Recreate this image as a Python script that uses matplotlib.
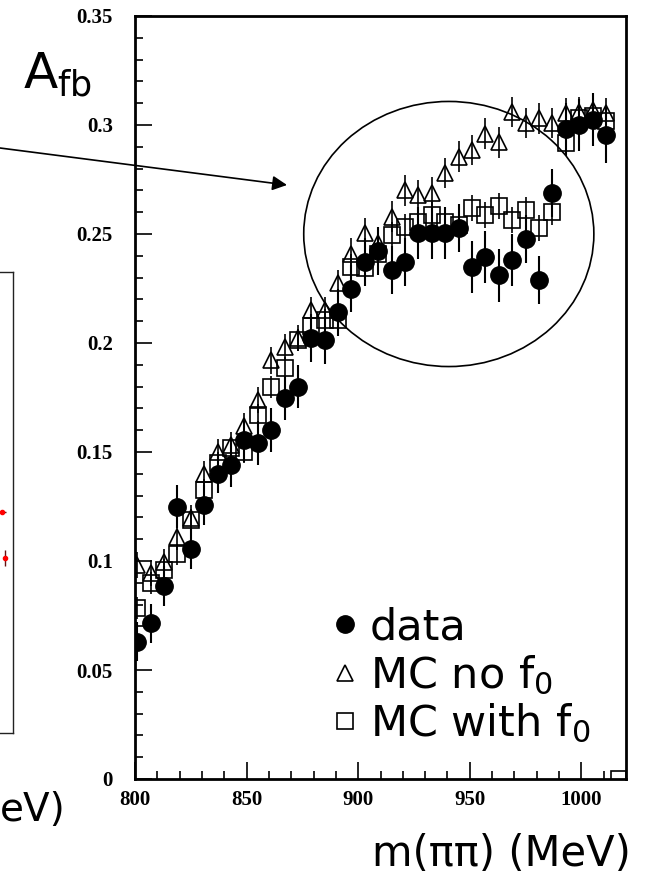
import matplotlib
matplotlib.use("Agg")
import matplotlib.pyplot as plt
from matplotlib.patches import Ellipse, FancyArrowPatch
from matplotlib.lines import Line2D
from matplotlib.ticker import MultipleLocator, FuncFormatter

# m(pi pi) bin centres in MeV
mass = [801, 807, 813, 819, 825, 831, 837, 843, 849, 855, 861, 867,
        873, 879, 885, 891, 897, 903, 909, 915, 921, 927, 933, 939,
        945, 951, 957, 963, 969, 975, 981, 987, 993, 999, 1005, 1011]
mass_f0 = mass + [1017]

# A_fb, data
afb_data = [0.063, 0.0715, 0.0885, 0.125, 0.1055, 0.1257, 0.140, 0.144,
            0.1555, 0.154, 0.160, 0.1747, 0.180, 0.2025, 0.2014, 0.214,
            0.225, 0.237, 0.242, 0.2335, 0.237, 0.2505, 0.2505, 0.2505,
            0.2528, 0.235, 0.2394, 0.231, 0.238, 0.2477, 0.229, 0.269,
            0.298, 0.300, 0.3025, 0.2954]
err_data = [0.009, 0.009, 0.009, 0.010, 0.009, 0.009, 0.009, 0.010,
            0.010, 0.010, 0.010, 0.010, 0.010, 0.011, 0.011, 0.011,
            0.011, 0.011, 0.011, 0.011, 0.011, 0.012, 0.012, 0.012,
            0.011, 0.012, 0.012, 0.012, 0.012, 0.011, 0.011, 0.011,
            0.012, 0.012, 0.012, 0.013]

# MC without f0
afb_nof0 = [0.098, 0.0945, 0.0995, 0.111, 0.1197, 0.140, 0.150, 0.153,
            0.162, 0.174, 0.192, 0.198, 0.2023, 0.215, 0.215, 0.2275,
            0.241, 0.2505, 0.246, 0.258, 0.270, 0.268, 0.269, 0.278,
            0.2855, 0.2885, 0.296, 0.292, 0.306, 0.301, 0.303, 0.301,
            0.3055, 0.306, 0.307, 0.3055]
err_nof0 = [0.006, 0.006, 0.006, 0.006, 0.006, 0.006, 0.006, 0.006,
            0.006, 0.006, 0.006, 0.006, 0.006, 0.006, 0.006, 0.006,
            0.007, 0.007, 0.007, 0.007, 0.007, 0.007, 0.007, 0.007,
            0.007, 0.007, 0.007, 0.007, 0.007, 0.007, 0.007, 0.007,
            0.007, 0.007, 0.007, 0.007]

# MC with f0
afb_withf0 = [0.0785, 0.090, 0.096, 0.103, 0.119, 0.1325, 0.145, 0.152,
              0.150, 0.167, 0.180, 0.1885, 0.2014, 0.208, 0.2105, 0.2105,
              0.235, 0.2345, 0.241, 0.2495, 0.253, 0.2555, 0.2587, 0.2555,
              0.254, 0.262, 0.2587, 0.263, 0.2564, 0.261, 0.2528, 0.260,
              0.2917, 0.303, 0.304, 0.302, 0.0]
err_withf0 = [0.005, 0.005, 0.005, 0.005, 0.005, 0.005, 0.005, 0.005,
              0.005, 0.005, 0.005, 0.005, 0.005, 0.005, 0.005, 0.005,
              0.006, 0.006, 0.006, 0.006, 0.006, 0.006, 0.006, 0.006,
              0.006, 0.006, 0.006, 0.006, 0.006, 0.006, 0.006, 0.006,
              0.006, 0.006, 0.006, 0.006, 0.0]

# pieces of the neighbouring (cut off) plot
inset_x = [0.948, 0.962]
inset_y = [0.48, 0.38]
inset_xerr = [0.02, 0.0]
inset_yerr = [0.0, 0.017]

labels = ["data", "MC no f$_0$", "MC with f$_0$"]

W, H = 661, 876
fig = plt.figure(figsize=(W / 100, H / 100), dpi=100)
fig.patch.set_facecolor("white")

ax = fig.add_axes([135 / W, 97 / H, 491 / W, 763 / H])

ax.errorbar(mass, afb_nof0, yerr=err_nof0, fmt="^", ms=12, mfc="none",
            mec="black", mew=1.2, ecolor="black", elinewidth=1.2, capsize=0)
ax.errorbar(mass_f0, afb_withf0, yerr=err_withf0, fmt="s", ms=11, mfc="none",
            mec="black", mew=1.2, ecolor="black", elinewidth=1.2, capsize=0)
ax.errorbar(mass, afb_data, yerr=err_data, fmt="o", ms=12.5, color="black",
            ecolor="black", elinewidth=1.5, capsize=0)

ax.set_xlim(800, 1020)
ax.set_ylim(0, 0.35)
ax.xaxis.set_major_locator(MultipleLocator(50))
ax.xaxis.set_minor_locator(MultipleLocator(10))
ax.yaxis.set_major_locator(MultipleLocator(0.05))
ax.yaxis.set_minor_locator(MultipleLocator(0.01))
ax.yaxis.set_major_formatter(FuncFormatter(lambda v, p: "%g" % round(v, 3)))
ax.tick_params(which="both", direction="in", top=False, right=False, width=1.2)
ax.tick_params(which="major", length=12)
ax.tick_params(which="minor", length=6)
ax.tick_params(axis="y", pad=16)
ax.tick_params(axis="x", pad=8)
for lab in ax.get_xticklabels() + ax.get_yticklabels():
    lab.set_fontfamily("Liberation Serif")
    lab.set_fontweight("bold")
    lab.set_fontsize(15)
for sp in ax.spines.values():
    sp.set_linewidth(2.0)

# circle around the region of interest
ax.add_patch(Ellipse((940.6, 0.25), 130, 0.1216, fill=False, lw=1.2,
                     ec="black"))

handles = [
    Line2D([], [], ls="none", marker="o", ms=12.5, color="black"),
    Line2D([], [], ls="none", marker="^", ms=12, mfc="none", mec="black", mew=1.2),
    Line2D([], [], ls="none", marker="s", ms=11, mfc="none", mec="black", mew=1.2),
]
ax.legend(handles, labels, loc="upper left", bbox_to_anchor=(0.393, 0.226),
          frameon=False, borderpad=0, borderaxespad=0, handlelength=0.8,
          handletextpad=0.17, labelspacing=0.12,
          prop={"family": "DejaVu Sans", "size": 31})

# left neighbour plot, mostly outside the figure
ax2 = fig.add_axes([-0.3, (H - 733) / H, 0.3 + 13 / W, (733 - 272) / H])
ax2.set_facecolor("none")
ax2.set_xlim(0, 1)
ax2.set_ylim(0, 1)
ax2.set_xticks([])
ax2.set_yticks([])
for sp in ax2.spines.values():
    sp.set_linewidth(1.0)
    sp.set_color("#222222")
ax2.errorbar(inset_x, inset_y, xerr=inset_xerr, yerr=inset_yerr, fmt="o",
             ms=3, color="red", ecolor="#661111", elinewidth=1.0, capsize=0)

# texts
fig.text(23 / W, 1 - 88 / H, r"A$_{\mathrm{fb}}$", fontsize=36,
         family="DejaVu Sans", va="baseline", ha="left")
fig.text(372 / W, 1 - 866 / H, "m(ππ) (MeV)", fontsize=30,
         family="DejaVu Sans", va="baseline", ha="left")
# tail of the neighbour plot's axis title
fig.text(0, 1 - 821 / H, "eV)", fontsize=28,
         family="DejaVu Sans", va="baseline", ha="left")

arrow = FancyArrowPatch((0, 1 - 148 / H), (287 / W, 1 - 185 / H),
                        transform=fig.transFigure, arrowstyle="-|>",
                        mutation_scale=22, lw=1.2, color="black",
                        shrinkA=0, shrinkB=0)
fig.add_artist(arrow)

fig.savefig("out.png", dpi=100)
